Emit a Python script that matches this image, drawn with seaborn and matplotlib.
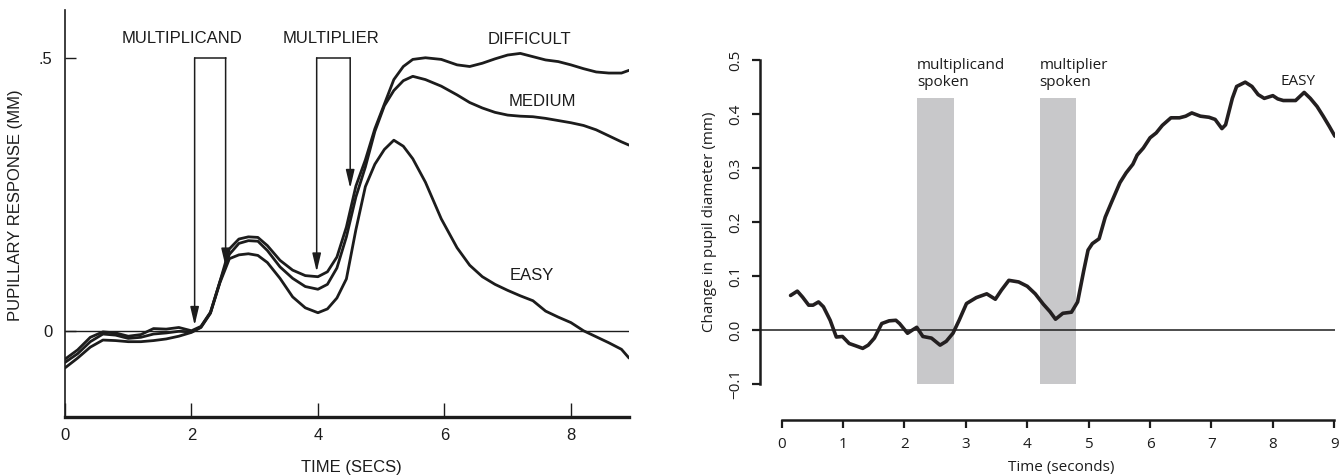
import matplotlib
matplotlib.use("Agg")
import matplotlib.pyplot as plt
import numpy as np
import pandas as pd
import seaborn as sns

# ---- left panel: original pupillary response curves ----
time_orig = [0, 0.2, 0.4, 0.6, 0.8, 1.0, 1.2, 1.4, 1.6, 1.8, 2.0, 2.15, 2.3, 2.45,
             2.6, 2.75, 2.9, 3.05, 3.2, 3.4, 3.6, 3.8, 4.0, 4.15, 4.3, 4.45, 4.6,
             4.75, 4.9, 5.05, 5.2, 5.35, 5.5, 5.7, 5.95, 6.2, 6.4, 6.6, 6.8, 7.0,
             7.2, 7.4, 7.6, 7.8, 8.0, 8.2, 8.4, 8.6, 8.8, 8.92]
difficult = [-0.052, -0.035, -0.012, -0.002, -0.004, -0.010, -0.007, 0.004, 0.003,
             0.006, 0.000, 0.008, 0.034, 0.090, 0.150, 0.168, 0.172, 0.171, 0.156,
             0.129, 0.111, 0.101, 0.099, 0.108, 0.135, 0.190, 0.265, 0.313, 0.370,
             0.415, 0.460, 0.484, 0.497, 0.500, 0.497, 0.487, 0.484, 0.490, 0.498,
             0.505, 0.508, 0.502, 0.496, 0.493, 0.487, 0.480, 0.474, 0.472, 0.472,
             0.477]
medium = [-0.058, -0.042, -0.020, -0.006, -0.008, -0.014, -0.012, -0.006, -0.004,
          -0.001, -0.002, 0.007, 0.033, 0.090, 0.140, 0.160, 0.165, 0.164, 0.147,
          0.117, 0.096, 0.081, 0.076, 0.085, 0.115, 0.172, 0.245, 0.300, 0.365,
          0.412, 0.440, 0.458, 0.466, 0.460, 0.448, 0.432, 0.418, 0.408, 0.400,
          0.395, 0.393, 0.392, 0.389, 0.385, 0.381, 0.376, 0.368, 0.357, 0.346,
          0.340]
easy_orig = [-0.068, -0.050, -0.030, -0.017, -0.018, -0.020, -0.020, -0.018, -0.015,
             -0.010, -0.003, 0.006, 0.032, 0.088, 0.132, 0.139, 0.141, 0.138, 0.125,
             0.096, 0.062, 0.042, 0.033, 0.040, 0.060, 0.095, 0.185, 0.264, 0.305,
             0.332, 0.349, 0.338, 0.315, 0.272, 0.205, 0.152, 0.120, 0.099, 0.085,
             0.074, 0.064, 0.055, 0.036, 0.025, 0.015, 0.000, -0.011, -0.022, -0.034,
             -0.050]
multiplicand_marks = [2.05, 2.54]
multiplier_marks = [3.98, 4.51]
multiplicand_tips = [0.01, 0.117]
multiplier_tips = [0.108, 0.261]

# ---- right panel: replication, easy condition ----
time_rep = [0.145, 0.255, 0.34, 0.44, 0.51, 0.6, 0.68, 0.79, 0.89, 0.99, 1.1, 1.2,
            1.32, 1.41, 1.51, 1.63, 1.75, 1.86, 1.92, 2.05, 2.13, 2.2, 2.3, 2.44,
            2.58, 2.68, 2.79, 2.89, 3.01, 3.17, 3.34, 3.48, 3.58, 3.7, 3.86, 4.0,
            4.13, 4.26, 4.37, 4.46, 4.58, 4.72, 4.82, 4.92, 4.99, 5.06, 5.17, 5.27,
            5.37, 5.51, 5.61, 5.72, 5.79, 5.89, 6.0, 6.1, 6.2, 6.34, 6.48, 6.58,
            6.68, 6.82, 6.96, 7.06, 7.17, 7.23, 7.34, 7.41, 7.55, 7.66, 7.76, 7.86,
            8.0, 8.08, 8.17, 8.27, 8.37, 8.51, 8.61, 8.72, 8.82, 8.92, 9.01]
easy_rep = [0.064, 0.072, 0.061, 0.046, 0.046, 0.052, 0.043, 0.018, -0.013, -0.012,
            -0.025, -0.029, -0.034, -0.028, -0.015, 0.012, 0.017, 0.018, 0.012,
            -0.006, 0.000, 0.005, -0.012, -0.015, -0.028, -0.021, -0.006, 0.018,
            0.049, 0.060, 0.067, 0.057, 0.074, 0.092, 0.089, 0.081, 0.067, 0.048,
            0.034, 0.020, 0.031, 0.033, 0.052, 0.110, 0.148, 0.160, 0.169, 0.209,
            0.236, 0.273, 0.291, 0.307, 0.324, 0.337, 0.356, 0.365, 0.379, 0.393,
            0.393, 0.396, 0.402, 0.396, 0.394, 0.390, 0.373, 0.380, 0.429, 0.451,
            0.459, 0.451, 0.436, 0.429, 0.434, 0.428, 0.425, 0.425, 0.425, 0.440,
            0.429, 0.414, 0.396, 0.377, 0.359]
multiplicand_spoken = [2.2, 2.8]
multiplier_spoken = [4.2, 4.8]
band_top = 0.43

sns.set_style("ticks")
plt.rcParams["font.family"] = ["Open Sans", "DejaVu Sans"]

ink = "#1c1c1c"
fig = plt.figure(figsize=(13.43, 4.76), dpi=100)

# ================= left panel =================
ax = fig.add_axes([0.0484, 0.1239, 0.42, 0.855])
old_font = ["Liberation Sans", "DejaVu Sans"]

df_orig = pd.DataFrame({"time": time_orig * 3,
                        "resp": difficult + medium + easy_orig,
                        "cond": ["DIFFICULT"] * len(time_orig) + ["MEDIUM"] * len(time_orig)
                        + ["EASY"] * len(time_orig)})
sns.lineplot(data=df_orig, x="time", y="resp", units="cond", estimator=None,
             color=ink, lw=2.0, ax=ax)
ax.axhline(0, color=ink, lw=1.0, zorder=1)

for marks, tips in [(multiplicand_marks, multiplicand_tips), (multiplier_marks, multiplier_tips)]:
    ax.plot(marks, [0.5, 0.5], color=ink, lw=1.1)
    for t, tip in zip(marks, tips):
        ax.annotate("", xy=(t, tip), xytext=(t, 0.5),
                    arrowprops=dict(arrowstyle="-|>,head_length=0.85,head_width=0.2",
                                    color=ink, lw=1.1, mutation_scale=13,
                                    shrinkA=0, shrinkB=0))

label_kw = dict(ha="center", va="center", fontsize=12, color=ink, family=old_font)
ax.text(1.85, 0.535, "MULTIPLICAND", **label_kw)
ax.text(4.21, 0.535, "MULTIPLIER", **label_kw)
ax.text(7.35, 0.534, "DIFFICULT", **label_kw)
ax.text(7.55, 0.419, "MEDIUM", **label_kw)
ax.text(7.39, 0.102, "EASY", **label_kw)

ax.set_xlim(0, 8.92)
ax.set_ylim(-0.158, 0.5874)
ax.set_xticks([0, 2, 4, 6, 8])
ax.set_xticklabels(["0", "2", "4", "6", "8"], family=old_font, fontsize=12)
ax.set_yticks([0, 0.5])
ax.set_yticklabels(["0", ".5"], family=old_font, fontsize=12)
ax.tick_params(axis="x", direction="in", length=10, width=1.0, pad=8, colors=ink,
               bottom=True)
ax.tick_params(axis="y", direction="in", length=8, width=1.0, pad=9, colors=ink,
               left=True)
for s in ["top", "right"]:
    ax.spines[s].set_visible(False)
ax.spines["left"].set_linewidth(1.2)
ax.spines["bottom"].set_linewidth(2.4)
ax.spines["left"].set_color(ink)
ax.spines["bottom"].set_color(ink)
ax.set_xlabel("TIME (SECS)", family=old_font, fontsize=12, color=ink)
ax.set_ylabel("PUPILLARY RESPONSE (MM)", family=old_font, fontsize=12, color=ink)
ax.xaxis.set_label_coords(0.507, -0.123)
ax.xaxis.label.set_va("center")
ax.yaxis.set_label_coords(-0.087, 0.521)
ax.yaxis.label.set_va("center")

# ================= right panel =================
bx = fig.add_axes([0.5659, 0.1176, 0.4285, 0.7563])
band_color = "#c8c8ca"
bx.fill_between(multiplicand_spoken, -0.1, band_top, color=band_color, lw=0, zorder=1)
bx.fill_between(multiplier_spoken, -0.1, band_top, color=band_color, lw=0, zorder=1)
bx.axhline(0, color=ink, lw=1.1, zorder=2)
sns.lineplot(x=time_rep, y=easy_rep, color="#231f20", lw=2.6, ax=bx, zorder=3)

text_kw = dict(ha="left", va="top", fontsize=11, color=ink, linespacing=1.15)
bx.text(multiplicand_spoken[0], 0.503, "multiplicand\nspoken", **text_kw)
bx.text(multiplier_spoken[0], 0.503, "multiplier\nspoken", **text_kw)
bx.text(8.13, 0.461, "EASY", ha="left", va="center", fontsize=11, color=ink)

bx.set_xlim(-0.353, 9.02)
bx.set_ylim(-0.1667, 0.5)
bx.set_xticks(range(0, 10))
bx.set_xticklabels([str(i) for i in range(0, 10)], fontsize=11)
yt = [-0.1, 0.0, 0.1, 0.2, 0.3, 0.4, 0.5]
bx.set_yticks(yt)
bx.set_yticklabels(["\u22120.1", "0.0", "0.1", "0.2", "0.3", "0.4", "0.5"],
                   fontsize=11, rotation=90, va="center")
bx.tick_params(axis="both", direction="out", length=6, width=1.6, colors=ink,
               bottom=True, left=True)
bx.tick_params(axis="x", pad=6)
bx.tick_params(axis="y", pad=6)
for s in ["top", "right"]:
    bx.spines[s].set_visible(False)
for s in ["left", "bottom"]:
    bx.spines[s].set_linewidth(1.8)
    bx.spines[s].set_color(ink)
bx.spines["left"].set_bounds(-0.1, 0.5)
bx.spines["bottom"].set_bounds(0, 9)
bx.set_xlabel("Time (seconds)", fontsize=11, color=ink)
bx.set_ylabel("Change in pupil diameter (mm)", fontsize=11, color=ink)
bx.xaxis.set_label_coords(0.523, -0.133)
bx.xaxis.label.set_va("center")
bx.yaxis.set_label_coords(-0.0886, 0.55)
bx.yaxis.label.set_va("center")

fig.savefig("out.png", dpi=100)
